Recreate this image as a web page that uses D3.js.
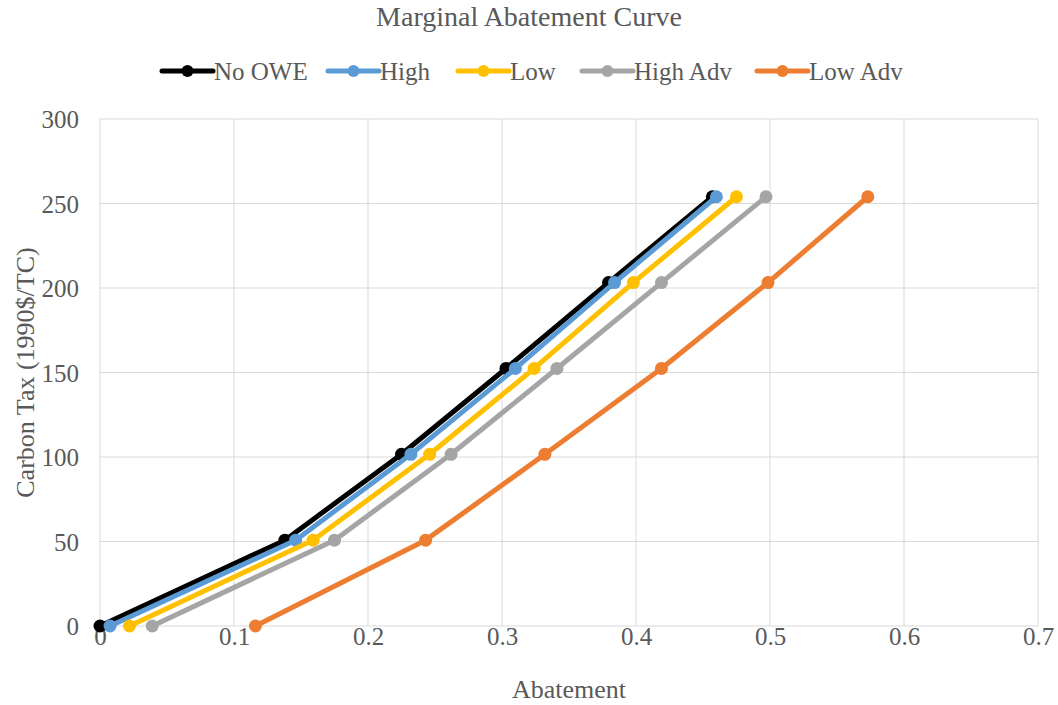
<!DOCTYPE html>
<html>
<head>
<meta charset="utf-8">
<script src="https://cdn.jsdelivr.net/npm/d3@7"></script>
<style>
  body { margin: 0; background: #fff; }
  svg text { font-family: "Times New Roman", "Liberation Serif", Tinos, "DejaVu Serif", serif; fill: #595959; }
</style>
</head>
<body>
<svg id="chart" width="1058" height="705"></svg>
<script>
// carbon tax levels (y) shared by every scenario
const taxLevels = [0, 50.8, 101.6, 152.4, 203.2, 254];

// abatement per scenario (x)
const noOwe   = [0, 0.138, 0.225, 0.303, 0.3795, 0.457];
const high    = [0.0075, 0.146, 0.232, 0.310, 0.384, 0.460];
const low     = [0.022, 0.159, 0.246, 0.324, 0.398, 0.475];
const highAdv = [0.039, 0.175, 0.262, 0.341, 0.419, 0.497];
const lowAdv  = [0.116, 0.243, 0.332, 0.419, 0.4985, 0.573];

const seriesNames = ['No OWE', 'High', 'Low', 'High Adv', 'Low Adv'];
const seriesColors = ['#000000', '#5b9bd5', '#ffc000', '#a5a5a5', '#ed7d31'];
const seriesValues = [noOwe, high, low, highAdv, lowAdv];

const xTicks = [0, 0.1, 0.2, 0.3, 0.4, 0.5, 0.6, 0.7];
const yTicks = [0, 50, 100, 150, 200, 250, 300];

const margin = { left: 100, right: 20, top: 119, bottom: 79 };
const width = 1058, height = 705;
const serif = '"Times New Roman", "Liberation Serif", Tinos, "DejaVu Serif", serif';

const svg = d3.select('#chart');

const x = d3.scaleLinear()
    .domain([0, 0.7])
    .range([margin.left, width - margin.right]);

const y = d3.scaleLinear()
    .domain([0, 300])
    .range([height - margin.bottom, margin.top]);

// gridlines
svg.append('g')
    .selectAll('line')
    .data(xTicks)
    .join('line')
        .attr('x1', d => x(d))
        .attr('x2', d => x(d))
        .attr('y1', y(0))
        .attr('y2', y(300))
        .style('stroke', '#d9d9d9')
        .style('stroke-width', 1)

svg.append('g')
    .selectAll('line')
    .data(yTicks)
    .join('line')
        .attr('x1', x(0))
        .attr('x2', x(0.7))
        .attr('y1', d => y(d))
        .attr('y2', d => y(d))
        .style('stroke', '#d9d9d9')
        .style('stroke-width', 1)

// axes (labels only)
const xAxis = svg.append('g')
    .attr('transform', `translate(0,${y(0) - 2})`)
    .attr('font-family', serif)
    .call(d3.axisBottom(x).tickValues(xTicks).tickSize(0).tickFormat(d => d === 0 ? '0' : d3.format('.1f')(d)))
xAxis.attr('font-family', serif);
xAxis.select('.domain').remove();
xAxis.selectAll('text')
    .style('font-size', '25px')
    .attr('fill', '#595959')

const yAxis = svg.append('g')
    .attr('transform', `translate(${x(0) - 18},0)`)
    .call(d3.axisLeft(y).tickValues(yTicks).tickSize(0))
yAxis.attr('font-family', serif);
yAxis.select('.domain').remove();
yAxis.selectAll('text')
    .attr('dy', '0.35em')
    .style('font-size', '25px')
    .attr('fill', '#595959')

// titles
svg.append('text')
    .attr('x', 529)
    .attr('y', 26)
    .attr('text-anchor', 'middle')
    .style('font-size', '28px')
    .text('Marginal Abatement Curve')

svg.append('text')
    .attr('x', (x(0) + x(0.7)) / 2)
    .attr('y', 698)
    .attr('text-anchor', 'middle')
    .style('font-size', '26px')
    .text('Abatement')

svg.append('text')
    .attr('transform', `translate(34,${(y(0) + y(300)) / 2}) rotate(-90)`)
    .attr('text-anchor', 'middle')
    .style('font-size', '26px')
    .text('Carbon Tax (1990$/TC)')

// series
const line = d3.line()
    .x(d => x(d.x))
    .y(d => y(d.y));

const series = seriesNames.map((name, i) => ({
    name: name,
    color: seriesColors[i],
    points: seriesValues[i].map((v, j) => ({ x: v, y: taxLevels[j] }))
}));

const seriesG = svg.append('g')
    .selectAll('g')
    .data(series)
    .join('g')

seriesG.append('path')
    .attr('d', d => line(d.points))
    .style('fill', 'none')
    .style('stroke', d => d.color)
    .style('stroke-width', 5)
    .style('stroke-linejoin', 'round')

seriesG.selectAll('circle')
    .data(d => d.points.map(p => ({ ...p, color: d.color })))
    .join('circle')
        .attr('cx', d => x(d.x))
        .attr('cy', d => y(d.y))
        .attr('r', 6.5)
        .style('fill', d => d.color)

// legend
const legendX = [162, 328, 458, 582, 757];
const legend = svg.append('g')
    .selectAll('g')
    .data(series)
    .join('g')
        .attr('transform', (d, i) => `translate(${legendX[i]},71)`)

legend.append('line')
    .attr('x1', 0)
    .attr('x2', 51)
    .style('stroke', d => d.color)
    .style('stroke-width', 5)
    .style('stroke-linecap', 'round')

legend.append('circle')
    .attr('cx', 25.5)
    .attr('r', 6)
    .style('fill', d => d.color)

legend.append('text')
    .attr('x', 52)
    .attr('dy', '0.35em')
    .style('font-size', '25px')
    .text(d => d.name)
</script>
</body>
</html>
